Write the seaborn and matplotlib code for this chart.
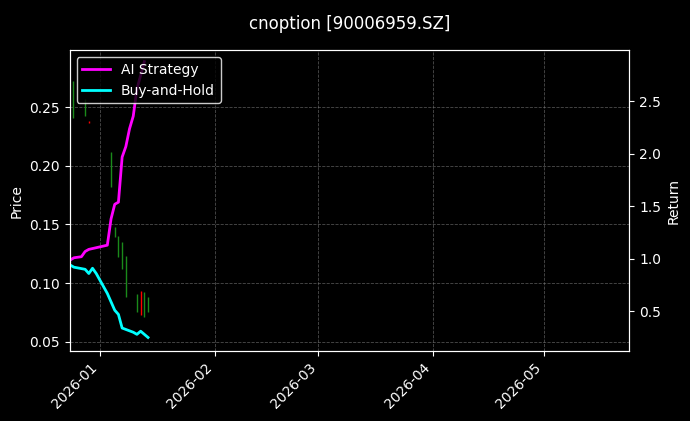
import pandas as pd
import numpy as np
import matplotlib
matplotlib.use("Agg")
import matplotlib.pyplot as plt
import matplotlib.dates as mdates
import seaborn as sns

plt.style.use("dark_background")

# candle wicks (high/low) and direction
candle_dates = ["2025-12-24 16:00", "2025-12-28 00:00", "2025-12-29 00:00", "2026-01-04 00:00",
                "2026-01-05 00:00", "2026-01-06 00:00", "2026-01-07 00:00", "2026-01-08 00:00",
                "2026-01-11 00:00", "2026-01-12 00:00", "2026-01-13 00:00", "2026-01-14 00:00"]
candle_high = [0.272, 0.257, 0.238, 0.212, 0.148, 0.140, 0.135, 0.123, 0.091, 0.093, 0.092, 0.088]
candle_low = [0.241, 0.242, 0.236, 0.182, 0.139, 0.122, 0.112, 0.088, 0.075, 0.073, 0.071, 0.075]
candle_up = [True, True, False, True, True, True, True, True, True, False, True, True]

# strategy returns
ai_dates = ["2025-12-24", "2025-12-25", "2025-12-27", "2025-12-28", "2025-12-29",
            "2026-01-03", "2026-01-04", "2026-01-05", "2026-01-06", "2026-01-07",
            "2026-01-08", "2026-01-09", "2026-01-10", "2026-01-11", "2026-01-13"]
ai_ret = [0.99, 1.01, 1.02, 1.07, 1.09, 1.13, 1.38, 1.52, 1.54, 1.97, 2.07, 2.24, 2.36, 2.62, 2.88]
bh_dates = ["2025-12-24", "2025-12-25", "2025-12-28", "2025-12-29", "2025-12-30",
            "2025-12-31", "2026-01-03", "2026-01-05", "2026-01-06", "2026-01-07",
            "2026-01-10", "2026-01-11", "2026-01-12", "2026-01-14"]
bh_ret = [0.94, 0.92, 0.90, 0.86, 0.91, 0.86, 0.67, 0.51, 0.47, 0.34, 0.30, 0.28, 0.31, 0.25]

fig, ax = plt.subplots(figsize=(6.9, 4.21), dpi=100)
fig.subplots_adjust(left=0.101, right=0.912, top=0.881, bottom=0.166)
fig.patch.set_facecolor("black")
ax.set_facecolor("black")

cd = pd.to_datetime(candle_dates)
for d, h, l, up in zip(cd, candle_high, candle_low, candle_up):
    ax.vlines(d, l, h, color="#1a8a1a" if up else "red", linewidth=1)

ax.set_ylabel("Price")
ax.set_ylim(0.042, 0.2985)
ax.grid(True, linestyle="--", color="gray", alpha=0.6, linewidth=0.6)

ax2 = ax.twinx()
df = pd.concat([
    pd.DataFrame({"date": pd.to_datetime(ai_dates), "ret": ai_ret, "series": "AI Strategy"}),
    pd.DataFrame({"date": pd.to_datetime(bh_dates), "ret": bh_ret, "series": "Buy-and-Hold"}),
])
sns.lineplot(data=df, x="date", y="ret", hue="series", ax=ax2,
             palette={"AI Strategy": "magenta", "Buy-and-Hold": "cyan"}, linewidth=2)
ax2.set_ylim(0.12, 2.99)
ax2.set_ylabel("Return")
ax2.set_xlabel("")
ax2.legend(loc="upper left", title=None, facecolor="black", edgecolor="white")

ax.set_xlim(pd.Timestamp("2025-12-23 20:00"), pd.Timestamp("2026-05-24"))
ax.xaxis.set_major_locator(mdates.MonthLocator())
ax.xaxis.set_major_formatter(mdates.DateFormatter("%Y-%m"))
plt.setp(ax.get_xticklabels(), rotation=45, ha="right")
ax.set_title("cnoption [90006959.SZ]", pad=15)

plt.savefig("out.png", dpi=100, facecolor="black")
